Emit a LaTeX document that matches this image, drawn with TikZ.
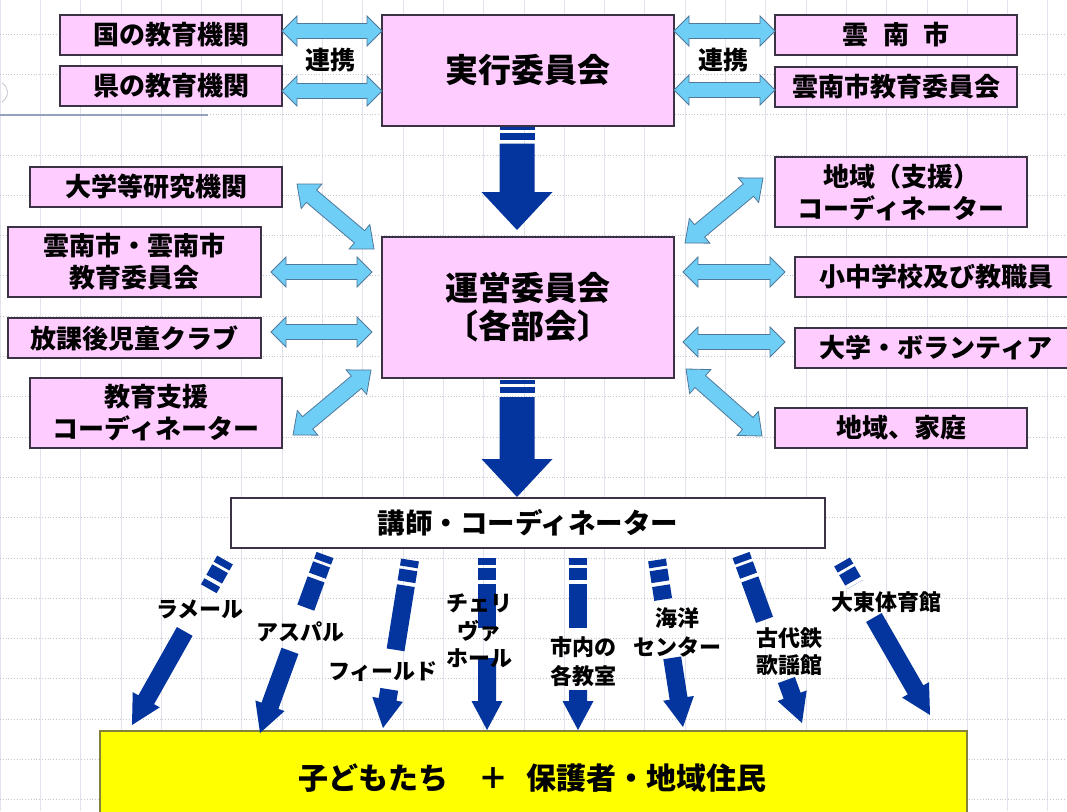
\documentclass[tikz,border=0pt]{standalone}
\usepackage{fontspec}
\setmainfont{Noto Sans CJK JP}
\usetikzlibrary{calc}
\definecolor{pinkbox}{RGB}{255,204,255}
\definecolor{boxline}{RGB}{60,50,70}
\definecolor{lblue}{RGB}{110,206,245}
\definecolor{lblueline}{RGB}{80,120,155}
\definecolor{dblue}{RGB}{4,52,158}
\definecolor{gridv}{RGB}{226,226,236}
\definecolor{gridh}{RGB}{196,196,206}
\definecolor{ybox}{RGB}{255,255,0}
\definecolor{yline}{RGB}{130,130,60}
\definecolor{strayline}{RGB}{150,160,190}

% double (light blue) arrow between two named coordinates
\newcommand\myDH{15pt}\newcommand\myDW{15pt}\newcommand\myDS{7.5pt}
\newcommand\dblarr[2]{%
\filldraw[lbarrow] (#1)
 -- ($(#1)!\myDH!(#2)!\myDW!90:(#2)$)
 -- ($(#1)!\myDH!(#2)!\myDS!90:(#2)$)
 -- ($(#2)!\myDH!(#1)!\myDS!-90:(#1)$)
 -- ($(#2)!\myDH!(#1)!\myDW!-90:(#1)$)
 -- (#2)
 -- ($(#2)!\myDH!(#1)!\myDW!90:(#1)$)
 -- ($(#2)!\myDH!(#1)!\myDS!90:(#1)$)
 -- ($(#1)!\myDH!(#2)!\myDS!-90:(#2)$)
 -- ($(#1)!\myDH!(#2)!\myDW!-90:(#2)$)
 -- cycle;}
% striped dark blue arrow
\newcommand\myAS{9pt}\newcommand\myAW{15.5pt}\newcommand\myAH{29pt}
\newcommand\myBA{7pt}\newcommand\myBB{10pt}\newcommand\myBC{22pt}\newcommand\myBD{26pt}
\newcommand\myseg[4]{\fill[dblue] ($(#1)!#3!(#2)!\myAS!90:(#2)$) -- ($(#1)!#4!(#2)!\myAS!90:(#2)$) -- ($(#1)!#4!(#2)!\myAS!-90:(#2)$) -- ($(#1)!#3!(#2)!\myAS!-90:(#2)$) -- cycle;}
\newcommand\sarr[4]{%
 \myseg{#1}{#2}{0pt}{\myBA}%
 \myseg{#1}{#2}{\myBB}{\myBC}%
 \myseg{#1}{#2}{\myBD}{#3}%
 \fill[dblue] ($(#1)!#4!(#2)!\myAS!90:(#2)$)
  -- ($(#2)!\myAH!(#1)!\myAS!-90:(#1)$)
  -- ($(#2)!\myAH!(#1)!\myAW!-90:(#1)$)
  -- (#2)
  -- ($(#2)!\myAH!(#1)!\myAW!90:(#1)$)
  -- ($(#2)!\myAH!(#1)!\myAS!90:(#1)$)
  -- ($(#1)!#4!(#2)!\myAS!-90:(#2)$) -- cycle;}

\begin{document}
\begin{tikzpicture}[x=1pt,y=-1pt,
  pbox/.style={draw=boxline,fill=pinkbox,line width=1.2pt,align=center,inner sep=0pt,
    font=\fontsize{26pt}{32pt}\selectfont\bfseries},
  bigbox/.style={pbox,font=\fontsize{33pt}{38pt}\selectfont\bfseries},
  lbarrow/.style={fill=lblue,draw=lblueline,line width=0.8pt,line join=miter},
  lbl/.style={font=\fontsize{22pt}{28pt}\selectfont\bfseries,align=center,inner sep=0pt},
  renkei/.style={font=\fontsize{25pt}{30pt}\selectfont\bfseries,inner sep=0pt}]
\useasboundingbox (0,0) rectangle (1067,811);
\clip (0,0) rectangle (1067,811);
\fill[white] (0,0) rectangle (1067,811);
% background grid
\foreach \i in {0,...,26} {\draw[gridv,line width=0.8pt] ({\i*40.3},0) -- ({\i*40.3},811);}
\foreach \j in {0,...,19} {\draw[gridh,dotted,line width=0.8pt] (0,{34+\j*40.3}) -- (1067,{34+\j*40.3});}
\draw[strayline,line width=1.5pt] (0,115) -- (208,115);
\draw[gridh,line width=0.8pt] (2,102) arc (60:-60:11);

% top row
\node[pbox,minimum width=222pt,minimum height=40pt] (kuni) at (171,35) {国の教育機関};
\node[pbox,minimum width=222pt,minimum height=40pt] (ken) at (171,86) {県の教育機関};
\node[bigbox,minimum width=292pt,minimum height=111pt] (jikko) at (528,70.5) {実行委員会};
\node[pbox,minimum width=242pt,minimum height=40pt] (unnan) at (896,35) {雲\hspace{0.55em}南\hspace{0.55em}市};
\node[pbox,minimum width=242pt,minimum height=40pt] (unnankyo) at (896,87) {雲南市教育委員会};
\node[renkei] (renL) at (330,60) {連携};
\node[renkei] (renR) at (723,60) {連携};

% middle
\node[bigbox,minimum width=292pt,minimum height=141pt] (unei) at (528,307.5) {運営委員会\\〔各部会〕};
\node[pbox,minimum width=252pt,minimum height=40pt] (daigaku) at (156,187) {大学等研究機関};
\node[pbox,minimum width=253pt,minimum height=70pt] (unnan2) at (134.5,262) {雲南市・雲南市\\教育委員会};
\node[pbox,minimum width=253pt,minimum height=40pt] (hokago) at (134.5,338) {放課後児童クラブ};
\node[pbox,minimum width=252pt,minimum height=70pt] (shien) at (156,413) {教育支援\\コーディネーター};
\node[pbox,minimum width=252pt,minimum height=70pt] (chiiki) at (901,192) {地域（支援）\\コーディネーター};
\node[pbox,minimum width=274pt,minimum height=40pt,text width=262pt] (shochu) at (932,277) {\hspace*{8pt}小中学校及び教職員};
\node[pbox,minimum width=274pt,minimum height=40pt,text width=262pt] (volun) at (932,348) {\hspace*{8pt}大学・ボランティア};
\node[pbox,minimum width=252pt,minimum height=40pt] (katei) at (901,428) {地域、家庭};

% lower
\node[draw=boxline,fill=white,line width=1.2pt,minimum width=594pt,minimum height=50pt,inner sep=0pt,
  font=\fontsize{27.5pt}{30pt}\selectfont\bfseries] (koshi) at (528,523) {講師・コーディネーター};
\node[draw=yline,fill=ybox,line width=1.2pt,minimum width=867pt,minimum height=100pt,inner sep=0pt] (kodomo) at (533.5,781) {};
\node[font=\fontsize{30pt}{34pt}\selectfont\bfseries,inner sep=0pt] (kodomotxt) at (532,778) {子どもたち\hspace{1em}＋\hspace{0.6em}保護者・地域住民};

% light blue connectors
\coordinate (a1) at (282,31); \coordinate (b1) at (382,31);
\coordinate (a2) at (282,91); \coordinate (b2) at (382,91);
\coordinate (a3) at (674,31); \coordinate (b3) at (775,31);
\coordinate (a4) at (674,90); \coordinate (b4) at (775,90);
\dblarr{a1}{b1}\dblarr{a2}{b2}\dblarr{a3}{b3}\dblarr{a4}{b4}
\coordinate (c1) at (271,272); \coordinate (d1) at (372,272);
\coordinate (c2) at (271,332); \coordinate (d2) at (372,332);
\coordinate (c3) at (683,272); \coordinate (d3) at (785,272);
\coordinate (c4) at (683,342); \coordinate (d4) at (785,342);
\dblarr{c1}{d1}\dblarr{c2}{d2}\dblarr{c3}{d3}\dblarr{c4}{d4}
\renewcommand\myDH{19pt}\renewcommand\myDW{16pt}\renewcommand\myDS{8pt}
\coordinate (e1) at (297,184); \coordinate (f1) at (374,249);
\coordinate (e2) at (293,435); \coordinate (f2) at (371,370);
\coordinate (e3) at (685,243); \coordinate (f3) at (763,178);
\coordinate (e4) at (686,369); \coordinate (f4) at (762,436);
\dblarr{e1}{f1}\dblarr{e2}{f2}\dblarr{e3}{f3}\dblarr{e4}{f4}

% big dark blue arrows
\begingroup
\renewcommand\myAS{17.5pt}\renewcommand\myAW{35.5pt}\renewcommand\myAH{38pt}
\renewcommand\myBA{3.5pt}\renewcommand\myBB{6.5pt}\renewcommand\myBC{13pt}\renewcommand\myBD{17pt}
\coordinate (g1) at (517,126.6); \coordinate (h1) at (517,230);
\coordinate (g2) at (517,380); \coordinate (h2) at (517,497);
\sarr{g1}{h1}{17pt}{17pt}
\sarr{g2}{h2}{17pt}{17pt}
\endgroup

% small dark blue arrows
\coordinate (p1) at (225,560); \coordinate (q1) at (132,725);
\coordinate (p2) at (325,555); \coordinate (q2) at (260,733);
\coordinate (p3) at (410,560); \coordinate (q3) at (383,728);
\coordinate (p4) at (487,558); \coordinate (q4) at (487,730);
\coordinate (p5) at (578,558); \coordinate (q5) at (578,730);
\coordinate (p6) at (657,560); \coordinate (q6) at (683,727);
\coordinate (p7) at (741,555); \coordinate (q7) at (802,723);
\coordinate (p8) at (842,562); \coordinate (q8) at (930,715);
\sarr{p1}{q1}{33pt}{82pt}
\sarr{p2}{q2}{56pt}{102pt}
\sarr{p3}{q3}{91pt}{131pt}
\sarr{p4}{q4}{70pt}{100pt}
\sarr{p5}{q5}{70pt}{132pt}
\sarr{p6}{q6}{40pt}{99pt}
\sarr{p7}{q7}{69pt}{133pt}
\sarr{p8}{q8}{26pt}{64pt}

% labels of the small arrows
\node[lbl] (l1) at (200,609) {ラメール};
\node[lbl] (l2) at (300,632) {アスパル};
\node[lbl] (l3) at (383,672) {フィールド};
\node[lbl,font=\fontsize{22pt}{27.5pt}\selectfont\bfseries] (l4) at (479,631) {チェリ\\ヴァ\\ホール};
\node[lbl,font=\fontsize{22pt}{29pt}\selectfont\bfseries] (l5) at (583,662) {市内の\\各教室};
\node[lbl,font=\fontsize{22pt}{29pt}\selectfont\bfseries] (l6) at (677,632) {海洋\\センター};
\node[lbl,font=\fontsize{22pt}{27pt}\selectfont\bfseries] (l7) at (789,652) {古代鉄\\歌謡館};
\node[lbl] (l8) at (886,602) {大東体育館};
\end{tikzpicture}
\end{document}
